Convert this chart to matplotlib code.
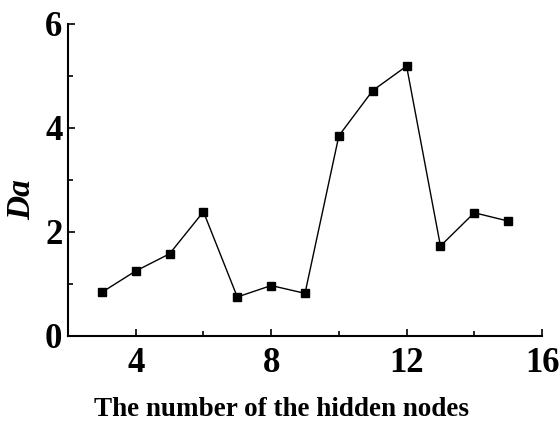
import numpy as np
import matplotlib.pyplot as plt
from matplotlib.ticker import MultipleLocator

nodes = [3, 4, 5, 6, 7, 8, 9, 10, 11, 12, 13, 14, 15]
da = [0.84, 1.25, 1.58, 2.39, 0.75, 0.97, 0.82, 3.85, 4.72, 5.19, 1.73, 2.37, 2.21]

plt.rcParams['font.family'] = ['Liberation Serif', 'DejaVu Serif']

fig = plt.figure(figsize=(5.6, 4.23), dpi=100)
ax = fig.add_axes([0.1214, 0.2057, 0.8465, 0.7376])

ax.plot(nodes, da, color='black', lw=1.0, marker='s', markersize=5.5)

ax.set_xlim(2, 16)
ax.set_ylim(0, 6)
ax.xaxis.set_major_locator(MultipleLocator(4))
ax.xaxis.set_minor_locator(MultipleLocator(2))
ax.yaxis.set_major_locator(MultipleLocator(2))
ax.yaxis.set_minor_locator(MultipleLocator(1))

for s in ['top', 'right']:
    ax.spines[s].set_visible(False)
for s in ['left', 'bottom']:
    ax.spines[s].set_linewidth(1.5)

ax.tick_params(which='major', direction='in', length=5, width=1.2, labelsize=25)
ax.tick_params(axis='x', which='major', pad=8)
ax.tick_params(axis='y', which='major', pad=4)
ax.tick_params(which='minor', direction='in', length=3.5, width=1.2)
for lab in ax.get_xticklabels() + ax.get_yticklabels():
    lab.set_fontweight('bold')

ax.set_xlabel('The number of the hidden nodes', fontsize=19.5, fontweight='bold')
ax.xaxis.set_label_coords(0.451, -0.195)
ax.set_ylabel('Da', fontsize=24, fontweight='bold', fontstyle='italic')
ax.yaxis.set_label_coords(-0.064, 0.436)

fig.savefig('out.png', dpi=100)
